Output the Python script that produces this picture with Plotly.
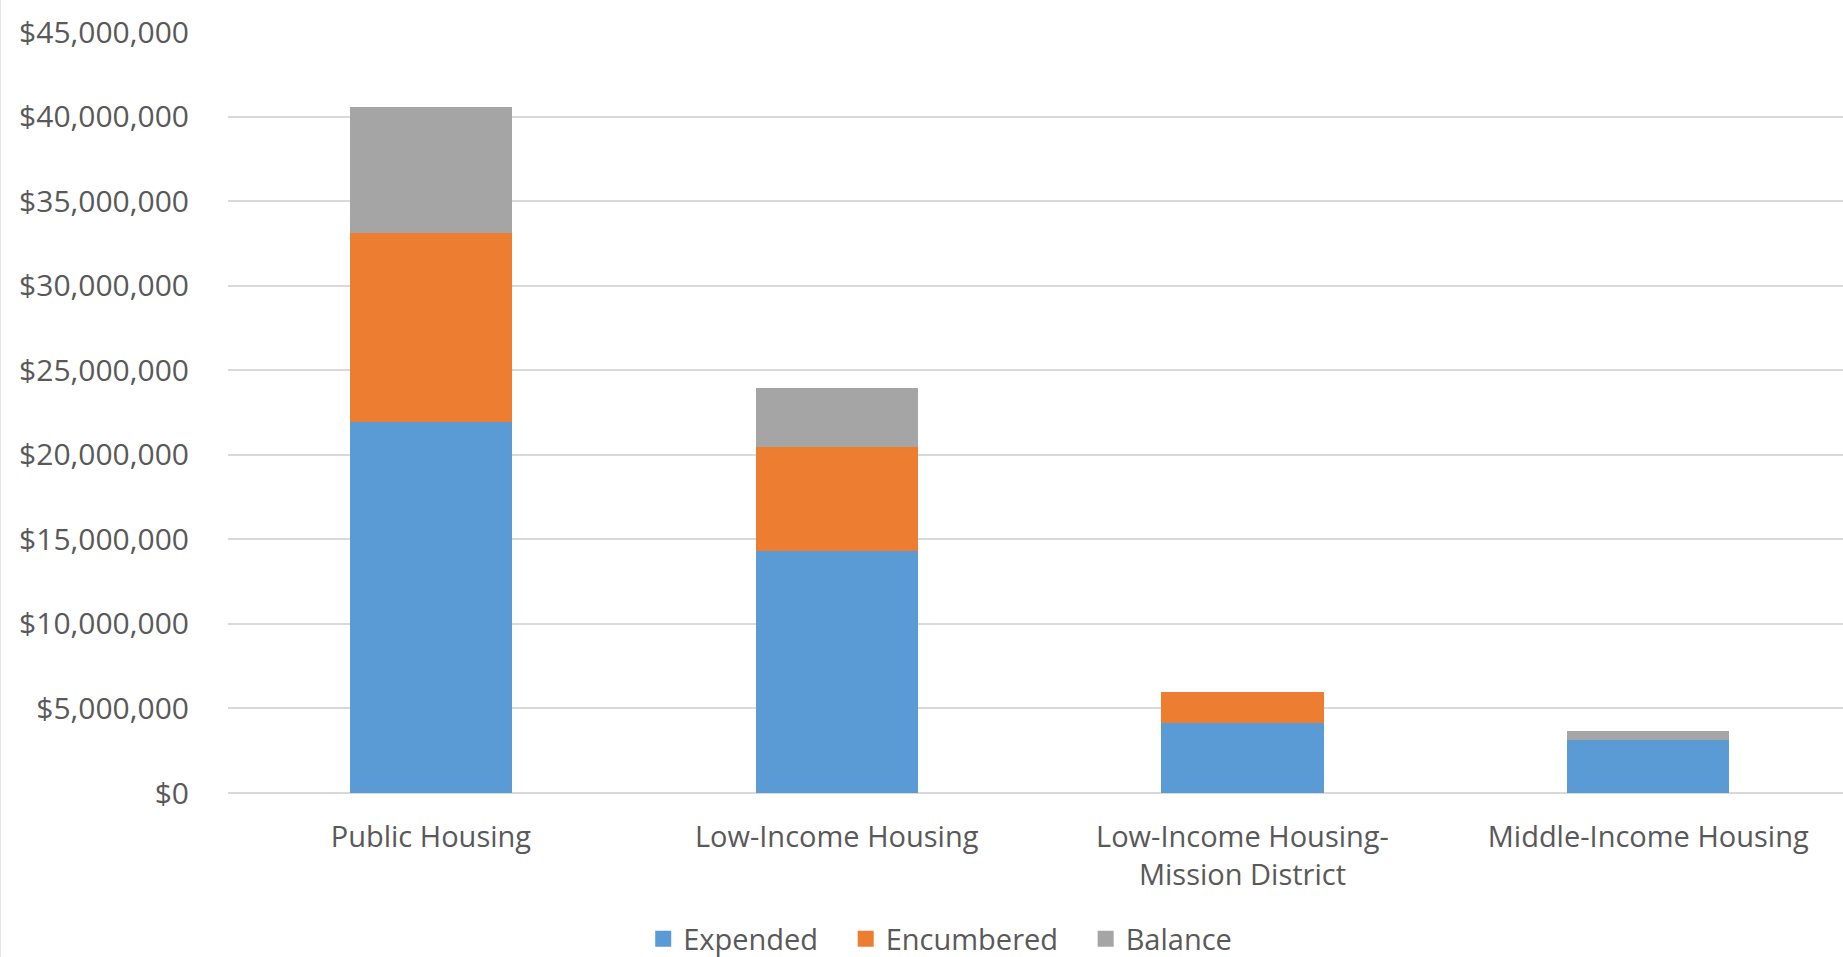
import plotly.graph_objects as go

categories = ["Public Housing", "Low-Income Housing", "Low-Income Housing-<br>Mission District", "Middle-Income Housing"]
expended = [21950000, 14310000, 4140000, 3130000]
encumbered = [11170000, 6170000, 1850000, 0]
balance = [7450000, 3450000, 0, 550000]
y_ticks = [0, 5000000, 10000000, 15000000, 20000000, 25000000, 30000000, 35000000, 40000000, 45000000]
y_tick_labels = ["$" + format(v, ",") for v in y_ticks]

series = [
    ("Expended", expended, "#5B9BD5"),
    ("Encumbered", encumbered, "#ED7D31"),
    ("Balance", balance, "#A5A5A5"),
]
legend_pad = ["\u00a0\u00a0\u00a0", "\u00a0\u00a0\u00a0", ""]

FONT = "Open Sans"
TXT = "#595959"
W, H = 1843, 957
ML, MT, MB = 228, 32, 164

fig = go.Figure()
for name, vals, col in series:
    fig.add_trace(go.Bar(
        x=categories, y=vals, name=name,
        marker=dict(color=col, line=dict(width=0)),
        showlegend=False,
    ))
# legend proxies (larger square swatches)
for (name, vals, col), pad in zip(series, legend_pad):
    fig.add_trace(go.Scatter(
        x=[None], y=[None], mode="markers", name=name + pad,
        marker=dict(symbol="square", size=20, color=col),
        showlegend=True,
    ))

plot_w = W - ML
fig.add_shape(type="line", xref="paper", yref="paper",
              x0=-(ML - 0.5) / plot_w, x1=-(ML - 0.5) / plot_w,
              y0=-MB / (H - MT - MB), y1=1 + MT / (H - MT - MB),
              line=dict(color="#E6E6E6", width=1))

fig.update_layout(
    barmode="stack",
    bargap=0.6,
    width=W, height=H,
    margin=dict(l=ML, r=0, t=MT, b=MB),
    paper_bgcolor="white",
    plot_bgcolor="white",
    font=dict(family=FONT, color=TXT, size=28),
    legend=dict(
        orientation="h",
        traceorder="normal",
        yref="container",
        x=0.441, xanchor="center",
        y=1 - 939 / 957, yanchor="middle",
        font=dict(family=FONT, size=29, color=TXT),
        itemsizing="trace",
        bgcolor="rgba(0,0,0,0)",
    ),
    xaxis=dict(
        type="category",
        range=[-0.5, 3.48],
        showgrid=False,
        showline=False,
        ticks="",
        automargin=False,
        tickfont=dict(family=FONT, size=29, color=TXT),
        ticklabelstandoff=24,
    ),
    yaxis=dict(
        range=[0, 45000000],
        tickvals=y_ticks,
        ticktext=y_tick_labels,
        showgrid=True,
        gridcolor="#D9D9D9",
        gridwidth=1.5,
        zeroline=True,
        zerolinecolor="#D9D9D9",
        zerolinewidth=1.5,
        showline=False,
        ticks="",
        automargin=False,
        tickfont=dict(family=FONT, size=30, color=TXT),
        ticklabelstandoff=38,
    ),
)

fig.write_html("out.html")
